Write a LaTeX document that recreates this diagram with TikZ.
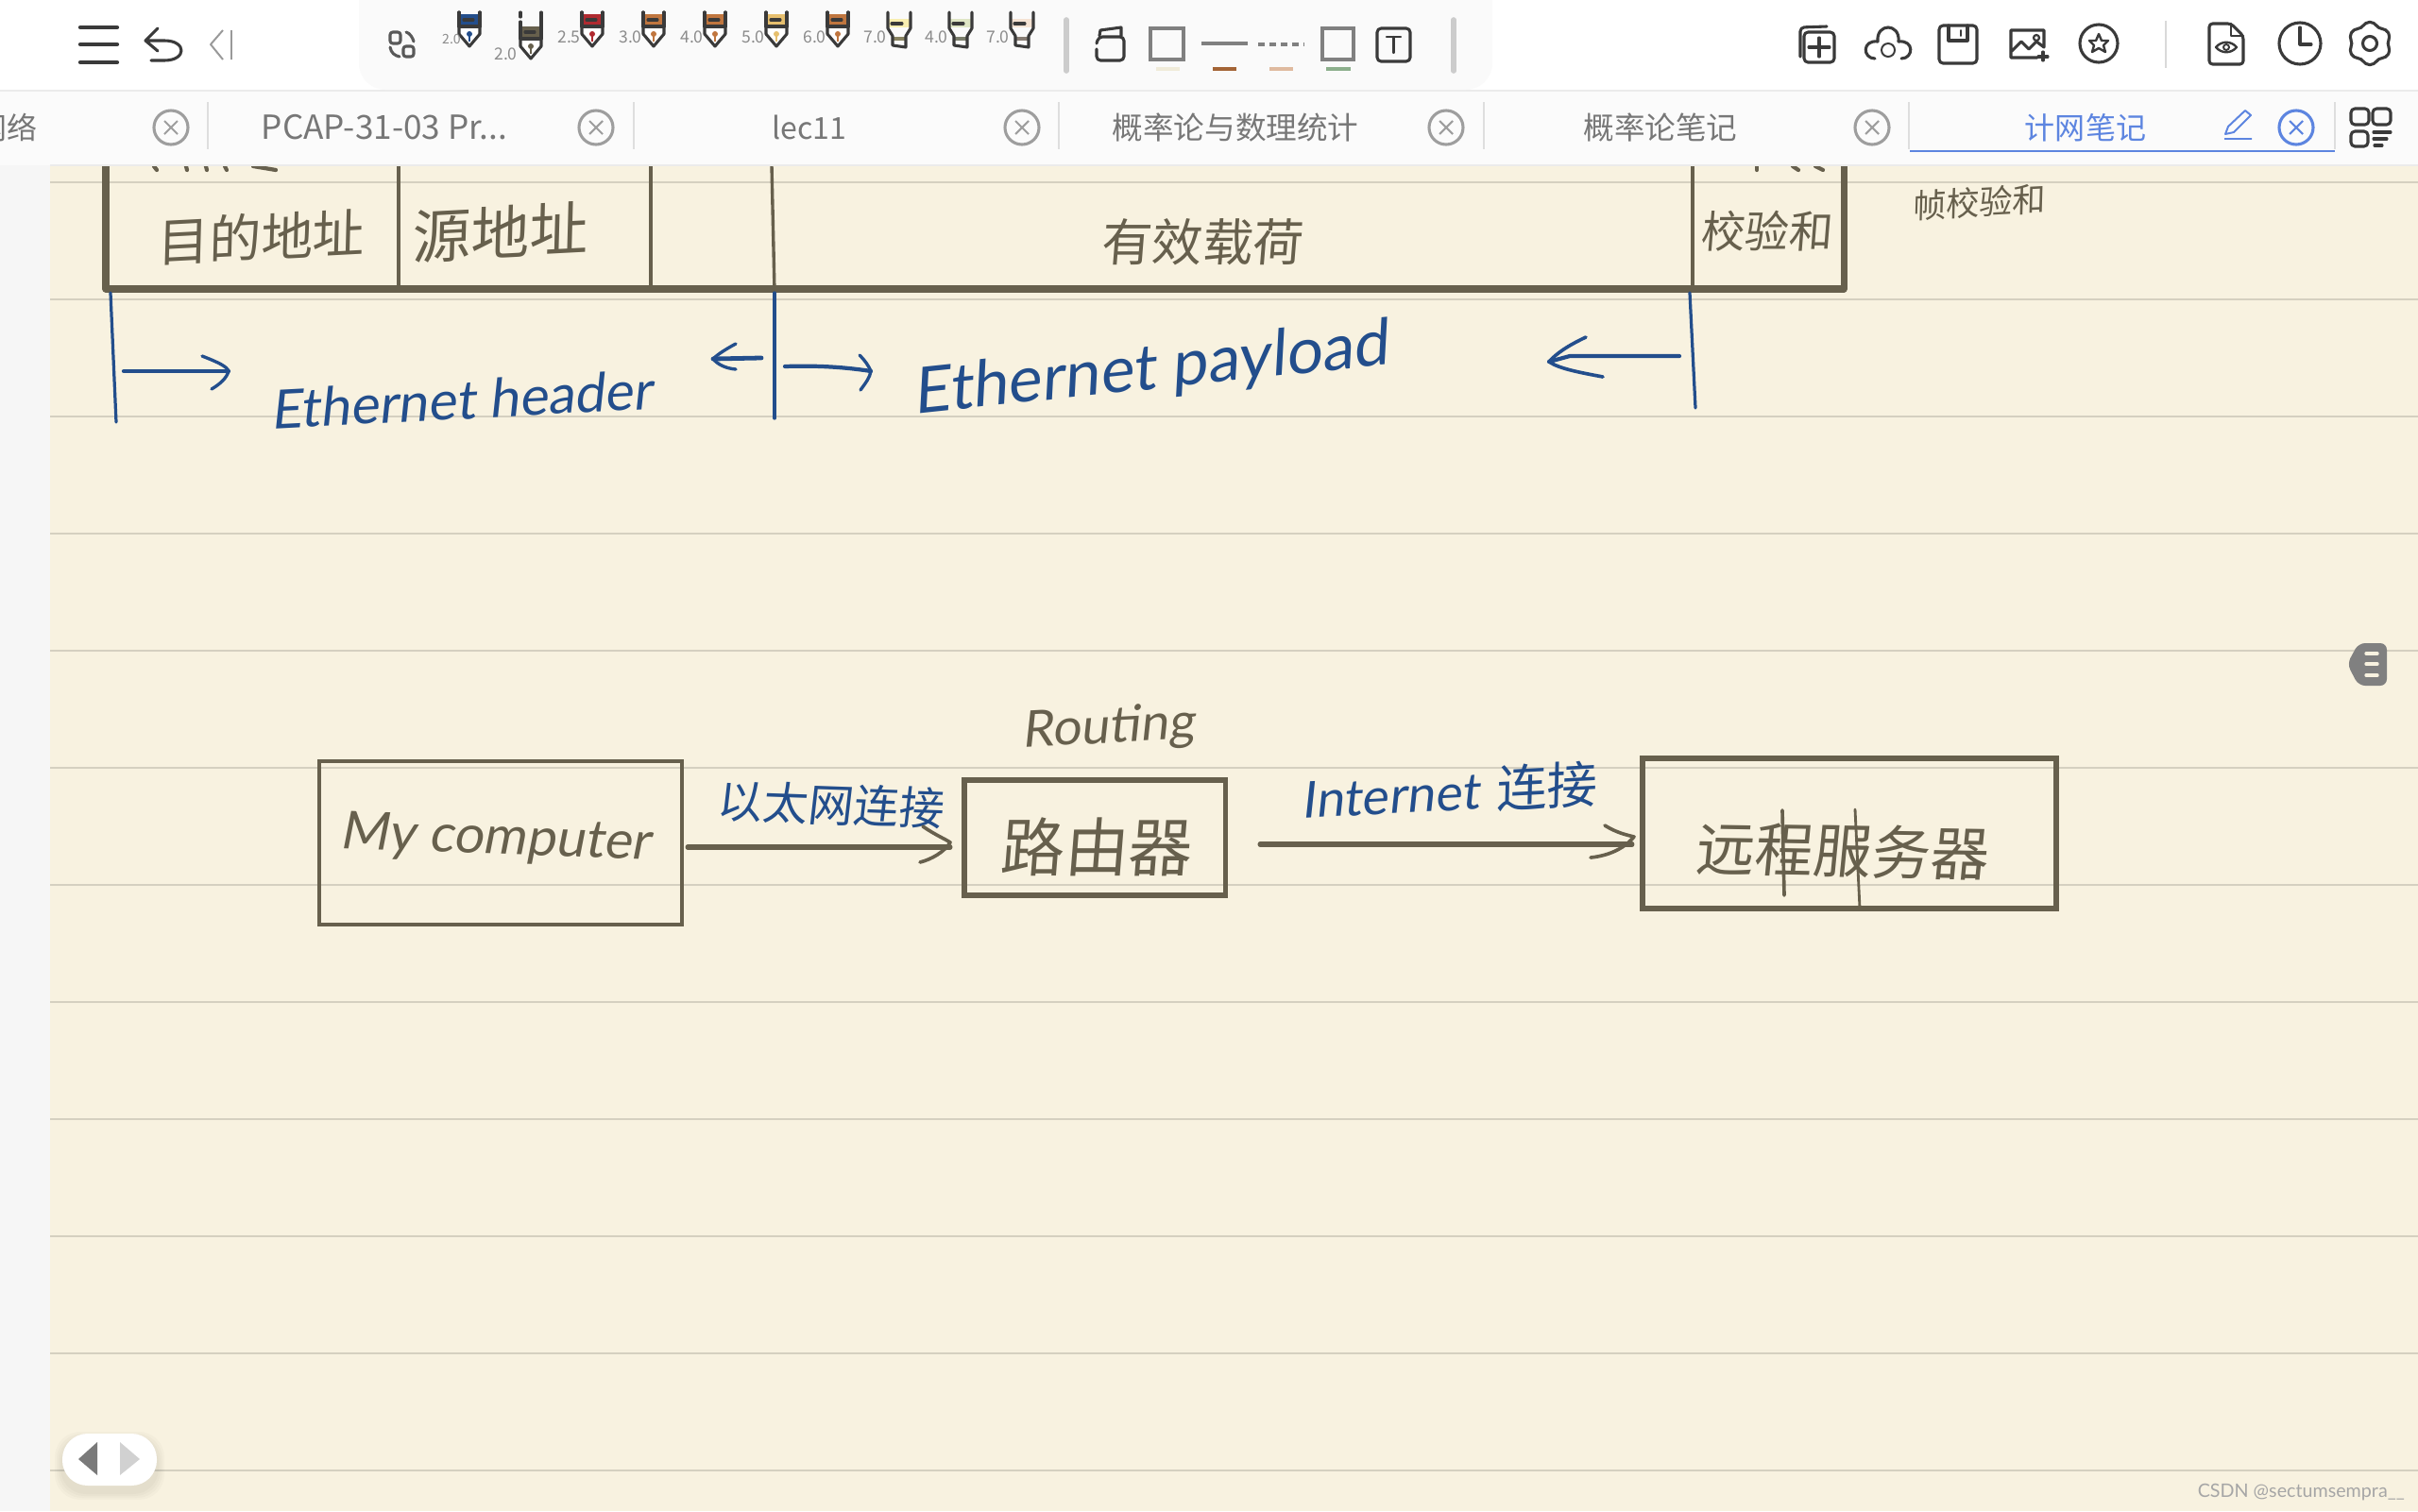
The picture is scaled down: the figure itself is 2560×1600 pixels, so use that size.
\documentclass[tikz,border=0pt]{standalone}
\usepackage{fontspec}
\setmainfont{Noto Sans CJK SC}
\newfontfamily\cjkui{Noto Sans CJK SC}
\newfontfamily\cjkhw[FakeSlant=0.08]{Noto Sans CJK SC}
\newfontfamily\lathw[FakeSlant=0.16]{Lato}
\newfontfamily\latup{Lato}
\newcommand\hz[1]{\fontsize{#1pt}{#1pt}\selectfont}
\definecolor{paper}{HTML}{F8F2E0}
\definecolor{rulec}{HTML}{D5D0C0}
\definecolor{ink}{HTML}{67604D}
\definecolor{blueink}{HTML}{234E8C}
\definecolor{icon}{HTML}{3A3A3A}
\definecolor{tabtxt}{HTML}{777777}
\definecolor{active}{HTML}{5D85E0}
\definecolor{penred}{HTML}{B02A30}
\definecolor{penbrown}{HTML}{C0763F}
\definecolor{pengold}{HTML}{E6BF6E}
\definecolor{mkyellow}{HTML}{F8EEB0}
\definecolor{mkgreen}{HTML}{DFE6C5}
\definecolor{mkpeach}{HTML}{F5E3D3}
\tikzset{
  x=0.025cm,y=-0.025cm,
  inkbox/.style={draw=ink,line width=#1,inner sep=0pt,outer sep=0pt,fill=none},
  inkline/.style={draw=ink,line width=#1,line cap=round,line join=round},
  blueline/.style={draw=blueink,line width=#1,line cap=round,line join=round},
  hwink/.style={text=ink,inner sep=0pt},
  hwblue/.style={text=blueink,inner sep=0pt},
  tabtext/.style={text=tabtxt,inner sep=0pt,font=\cjkui\hz{22.8}},
  tabsep/.style={draw=black!13,line width=1.2pt},
  ico/.style={draw=icon,line width=2.2pt,line cap=round,line join=round},
  numlab/.style={text=black!45,inner sep=0pt,anchor=east,font=\cjkui\hz{12.5}},
}
\newcommand\fpen[4]{% x, yoffset, colour, label
  \begin{scope}[shift={(#1,#2)}]
    \draw[ico] (-11,0) -- (-11,15) (11,0) -- (11,15);
    \draw[ico,fill=white] (-11,15) -- (-11,23) -- (0,36) -- (11,23) -- (11,15) -- cycle;
    \fill[#3] (-10,2) rectangle (10,15);
    \draw[ico] (-11,0) -- (-11,15) -- (11,15) -- (11,0);
    \draw[ico] (-6,8) -- (4,8);
    \draw[#3,line width=1.6pt] (0,23) -- (0,31);
    \fill[#3] (0,23) circle (3);
    \node[numlab] at (-12,26) {#4};
  \end{scope}}
\newcommand\fmark[3]{% x, colour, label
  \begin{scope}[shift={(#1,0)}]
    \fill[#2] (-11,20) rectangle (11,29);
    \fill[#2!55!black] (-7,39) rectangle (7,43);
    \draw[ico] (-12,13) -- (-12,30) -- (-7,38) -- (-7,48) -- (7,50) -- (7,38) -- (12,30) -- (12,13);
    \draw[ico] (-8,25) -- (3,25);
    \node[numlab] at (-13,39) {#3};
  \end{scope}}
\newcommand\fclose[2]{% x, colour
  \draw[#2,line width=2.2pt] (#1,135) circle (18);
  \draw[#2,line width=1.5pt] (#1-7,128) -- (#1+7,142) (#1-7,142) -- (#1+7,128);}
\begin{document}
\begin{tikzpicture}
\useasboundingbox (0,0) rectangle (2560,1600);
% page
\fill[black!3.5] (0,0) rectangle (2560,1600);
\fill[paper] (53,175) rectangle (2560,1600);
\foreach \yy in {193,317,441,565,689,813,937,1061,1185,1309,1433,1557}
  \draw[rulec,line width=1.8pt] (53,\yy) -- (2560,\yy);

% frame table (cut off by the tab bar)
\draw[inkline=5pt,line cap=butt] (112,175) -- (112,306) -- (1952,306) -- (1952,175);
\foreach \xa/\xb in {422/422,689/689,817/820,1792/1792}
  \draw[inkline=2.4pt,line cap=butt] (\xa,175) -- (\xb,309);
\foreach \xa/\xb in {163/166,197/198,218/219,238/240,268/292,1860/1860,1898/1904,1922/1930}
  \draw[inkline=3pt] (\xa,176) -- (\xb,180);
\node[hwink,font=\cjkhw\hz{39},rotate=3] (f1) at (275,251) {目的地址};
\node[hwink,font=\cjkhw\hz{44},rotate=3] (f2) at (528,246) {源地址};
\node[hwink,font=\cjkhw\hz{38}] (f3) at (1272,256) {有效载荷};
\node[hwink,font=\cjkhw\hz{33}] (f4) at (1870,245) {校验和};
\node[hwink,font=\cjkhw\hz{25},rotate=3] (f5) at (2095,214) {帧校验和};

% blue braces and arrows
\coordinate (b1a) at (117,310); \coordinate (b1b) at (123,447);
\coordinate (b2a) at (820,310); \coordinate (b2b) at (820,443);
\coordinate (b3a) at (1789,310); \coordinate (b3b) at (1795,432);
\draw[blueline=2.3pt] (b1a) -- (b1b);
\draw[blueline=2.3pt] (b2a) -- (b2b);
\draw[blueline=2.3pt] (b3a) -- (b3b);
\coordinate (c1) at (131,393); \coordinate (c1t) at (242,393);
\draw[blueline=3pt] (c1) -- (c1t);
\draw[blueline=2.4pt] (214,377) .. controls (232,384) and (240,388) .. (c1t) .. controls (240,400) and (234,406) .. (224,412);
\coordinate (c2) at (806,379); \coordinate (c2t) at (755,380);
\draw[blueline=3.4pt] (c2) -- (c2t);
\draw[blueline=2.4pt] (779,364) .. controls (768,370) and (760,375) .. (c2t) .. controls (760,386) and (768,390) .. (779,391);
\coordinate (c3) at (831,388); \coordinate (c3t) at (922,393);
\draw[blueline=3pt] (c3) .. controls (860,387) and (890,388) .. (c3t);
\draw[blueline=2.4pt] (910,376) .. controls (916,382) and (920,388) .. (c3t) .. controls (921,400) and (916,406) .. (911,413);
\coordinate (c4) at (1778,377); \coordinate (c4t) at (1640,383);
\draw[blueline=3pt] (c4) -- (1662,377) -- (c4t);
\draw[blueline=2.6pt] (1679,357) .. controls (1660,366) and (1648,374) .. (c4t) .. controls (1650,390) and (1670,394) .. (1697,399);
\node[hwblue,font=\lathw\hz{40.5},rotate=3] (eh) at (488,423) {Ethernet header};
\node[hwblue,font=\lathw\hz{48},rotate=6] (ep) at (1218,393) {Ethernet payload};

% connection diagram
\node[inkbox=2.8pt,minimum width=9.6cm,minimum height=4.325cm] (pc) at (530,892.5) {};
\node[inkbox=3.6pt,minimum width=6.9cm,minimum height=3.05cm] (rt) at (1159,887) {};
\node[inkbox=3.8pt,minimum width=10.95cm,minimum height=3.975cm] (sv) at (1958,882.5) {};
\node[hwink,font=\lathw\hz{39.5},rotate=-2] (pct) at (524,889) {My computer};
\node[hwink,font=\cjkhw\hz{48},rotate=0] (rtt) at (1160,897) {路由器};
\node[hwink,font=\cjkhw\hz{44},rotate=-1] (svt) at (1950,901) {远程服务器};
\node[hwink,font=\lathw\hz{38},rotate=3] (rg) at (1173,772) {Routing};
\node[hwblue,font=\cjkhw\hz{34},rotate=-2] (l1) at (879,852) {以太网连接};
\node[hwblue,rotate=3] (l2) at (1534,838) {{\lathw\hz{38}Internet}\hspace{13pt}{\cjkhw\hz{38}连接}};
\draw[inkline=2.6pt] (1887,858) -- (1889,948);
\draw[inkline=2pt] (1964,857) -- (1969,962);
\coordinate (a1) at ([xshift=0.15cm]pc.east |- 0,897);
\coordinate (a1t) at ([xshift=-0.375cm]rt.west |- 0,897);
\draw[inkline=3.6pt] (a1) -- (a1t);
\draw[inkline=2.6pt] (977,875) .. controls (990,884) and (1000,888) .. (1006,892) .. controls (1000,902) and (986,910) .. (974,913);
\coordinate (a2) at (1334,894);
\coordinate (a2t) at ([xshift=-0.275cm]sv.west |- 0,894);
\draw[inkline=3.6pt] (a2) -- (a2t);
\draw[inkline=2.6pt] (1699,874) .. controls (1712,882) and (1722,884) .. (1730,886) .. controls (1720,898) and (1704,906) .. (1684,908);

% bookmark and pager
\fill[black!50,rounded corners=5pt] (2485,703) -- (2497,681) -- (2527,681) -- (2527,726) -- (2497,726) -- cycle;
\foreach \yy in {692,703,715} \draw[paper,line width=2.4pt,line cap=round] (2505,\yy) -- (2517,\yy);
\foreach \gg in {8,6,4,2} \fill[black,opacity=.02,rounded corners=19pt] (66-\gg,1524-\gg) rectangle (166+\gg,1580+\gg);
\fill[white,rounded corners=19pt] (66,1518) rectangle (166,1573);
\fill[black!52] (83,1545) -- (103,1527) -- (103,1562) -- cycle;
\fill[black!18] (148,1545) -- (127,1527) -- (127,1562) -- cycle;
\node[text=black!35,inner sep=0pt,anchor=east,font=\latup\hz{14}] (wm) at (2546,1580) {CSDN @sectumsempra\_\_};

% tab bar
\fill[black!1.5] (0,96) rectangle (2560,175);
\draw[black!8,line width=1pt] (0,96) -- (2560,96);
\draw[black!8,line width=.8pt] (53,175) -- (2560,175);
\foreach \x in {220,671,1121,1571,2021,2472} \draw[tabsep] (\x,108) -- (\x,158);
\node[tabtext,anchor=east] (t0) at (40,135) {网络};
\node[tabtext,font=\cjkui\hz{25}] (t1) at (407,135) {PCAP-31-03 Pr...};
\node[tabtext] (t2) at (857,135) {lec11};
\node[tabtext,font=\cjkui\hz{23.2}] (t3) at (1308,135) {概率论与数理统计};
\node[tabtext,font=\cjkui\hz{23.2}] (t4) at (1758,135) {概率论笔记};
\node[tabtext,text=active] (t5) at (2208,135) {计网笔记};
\foreach \x in {181,631,1082,1531,1982} {\fclose{\x}{black!38}}
\fclose{2431}{active}
\draw[active,line width=2pt] (2022,160) -- (2472,160);
\draw[active,line width=1.4pt,line join=round] (2356,142) -- (2359,134) -- (2377,117) -- (2383,122) -- (2365,140) -- cycle (2355,147) -- (2384,147);
\draw[ico,rounded corners=3pt] (2489,115) rectangle (2508,132) (2512,115) rectangle (2531,132) (2489,139) rectangle (2507,155);
\draw[ico] (2513,140) -- (2531,140) (2513,147) -- (2527,147) (2514,154) -- (2522,154);

% top bar
\fill[white] (0,0) rectangle (2560,95);
\fill[black!2,rounded corners=20pt] (380,-40) rectangle (1580,95);
% left tools
\draw[ico,line width=3pt,line cap=round] (85,29) -- (124,29) (85,47) -- (124,47) (85,66) -- (124,66);
\draw[ico] (167,30) -- (154,43) -- (167,54) (154,43) -- (174,43) .. controls (198,43) and (198,64) .. (174,64) -- (160,64);
\draw[black!40,line width=1.4pt,line join=round] (236,32) -- (223,47) -- (236,63) (245,32) -- (245,63);
% swap
\draw[ico,rounded corners=2pt,draw=black!65] (413,34) rectangle (424,46) (427,49) rectangle (438,60);
\draw[ico,draw=black!65] (430,34) .. controls (434,35) and (437,40) .. (438,44) (413,50) .. controls (414,56) and (418,59) .. (423,60);
% pens
\fpen{497}{13}{blueink}{}
\node[numlab,font=\cjkui\hz{10}] (p1) at (488,41) {2.0};
\begin{scope}[shift={(562,26)}]
  \fill[ink] (-11,2) rectangle (11,15);
  \draw[ico,fill=white] (-11,15) -- (-11,23) -- (0,36) -- (11,23) -- (11,15) -- cycle;
  \draw[ico] (-11,2) -- (-11,15) -- (11,15) -- (11,-13);
  \draw[ico] (-11,-13) -- (-11,-8) (-11,-3) -- (-11,2);
  \draw[ico] (-6,8) -- (4,8);
  \draw[ink,line width=1.6pt] (0,23) -- (0,31);
  \fill[ink] (0,23) circle (3);
\end{scope}
\node[numlab] (p2) at (548,57) {2.0};
\fpen{627}{13}{penred}{2.5}
\fpen{692}{13}{penbrown}{3.0}
\fpen{757}{13}{penbrown}{4.0}
\fpen{822}{13}{pengold}{5.0}
\fpen{887}{13}{penbrown}{6.0}
\fmark{952}{mkyellow}{7.0}
\fmark{1017}{mkgreen}{4.0}
\fmark{1082}{mkpeach}{7.0}
\draw[black!20,line width=4pt,line cap=round] (1129,21) -- (1129,75);
\draw[black!20,line width=4pt,line cap=round] (1539,21) -- (1539,75);
% shape tools
\draw[ico] (1164,38) -- (1165,32) -- (1187,29) -- (1187,38);
\draw[ico,rounded corners=3pt] (1161,52) -- (1161,64) -- (1190,64) -- (1190,39) -- (1163,39) -- (1161,46);
\draw[draw=black!50,line width=2.2pt] (1218,30) rectangle (1253,63);
\fill[black!3!paper] (1224,71) rectangle (1249,75);
\draw[black!50,line width=2.2pt] (1272,46) -- (1321,46);
\fill[penbrown!85!black] (1284,71) rectangle (1309,75);
\draw[black!50,line width=3pt,dash pattern=on 5pt off 3.5pt] (1332,47) -- (1381,47);
\fill[penbrown!50!white] (1344,71) rectangle (1369,75);
\draw[draw=black!50,line width=2.2pt] (1400,30) rectangle (1433,63);
\fill[green!30!black!45!white] (1404,71) rectangle (1430,75);
\draw[ico,rounded corners=3pt] (1458,30) rectangle (1493,65);
\draw[ico,line width=1.6pt] (1468,39) -- (1483,39) (1475.5,39) -- (1475.5,56);
% right tools
\draw[ico,rounded corners=3pt] (1910,34) rectangle (1942,66);
\draw[ico,rounded corners=3pt] (1906,60) -- (1906,29) -- (1934,28);
\draw[ico] (1926,40) -- (1926,60) (1915,50) -- (1937,50);
\draw[ico] (1985,62) .. controls (1972,62) and (1971,42) .. (1988,44) .. controls (1986,24) and (2012,24) .. (2010,44) .. controls (2027,42) and (2026,62) .. (2013,62);
\draw[ico,line width=1.4pt] (1999,53) circle (7);
\draw[ico,rounded corners=3pt] (2053,27) rectangle (2093,67);
\draw[ico] (2063,27) -- (2063,43) -- (2083,43) -- (2083,27);
\draw[ico,line width=1.4pt] (2076,32) -- (2076,38);
\draw[ico] (2164,50) -- (2164,32) -- (2129,32) -- (2129,61) -- (2157,61) (2130,54) -- (2140,44) -- (2148,52) -- (2156,44) -- (2164,50);
\draw[ico,line width=1.6pt] (2156,40) circle (3);
\draw[ico] (2163,55) -- (2163,64) (2158,60) -- (2168,60);
\draw[ico] (2222,46) circle (20);
\draw[ico,line width=1.7pt] (2222,36) -- (2225,43) -- (2232,43) -- (2227,48) -- (2229,55) -- (2222,51) -- (2215,55) -- (2217,48) -- (2212,43) -- (2219,43) -- cycle;
\draw[black!15,line width=1.8pt] (2293,22) -- (2293,72);
\draw[ico,rounded corners=2.5pt] (2362,25) -- (2339,25) -- (2339,68) -- (2375,68) -- (2375,38) -- cycle;
\draw[ico,line width=1.7pt] (2362,25) -- (2362,38) -- (2375,38);
\draw[ico,line width=1.7pt] (2346,50) .. controls (2352,43) and (2362,43) .. (2368,50) .. controls (2362,57) and (2352,57) .. (2346,50) -- cycle;
\draw[ico,line width=1.4pt] (2357,50) circle (3);
\draw[ico] (2435,46) circle (22);
\draw[ico] (2435,29) -- (2435,47) -- (2447,47);
\begin{scope}[shift={(2509,46)}]
  \draw[ico,rounded corners=3pt] (78:23) \foreach \aa/\rr in {102/23,120/18,138/23,162/23,180/18,198/23,222/23,240/18,258/23,282/23,300/18,318/23,342/23,0/18,18/23,42/23,60/18} { -- (\aa:\rr)} -- cycle;
  \draw[ico] (0,0) circle (7.5);
\end{scope}
\end{tikzpicture}
\end{document}
